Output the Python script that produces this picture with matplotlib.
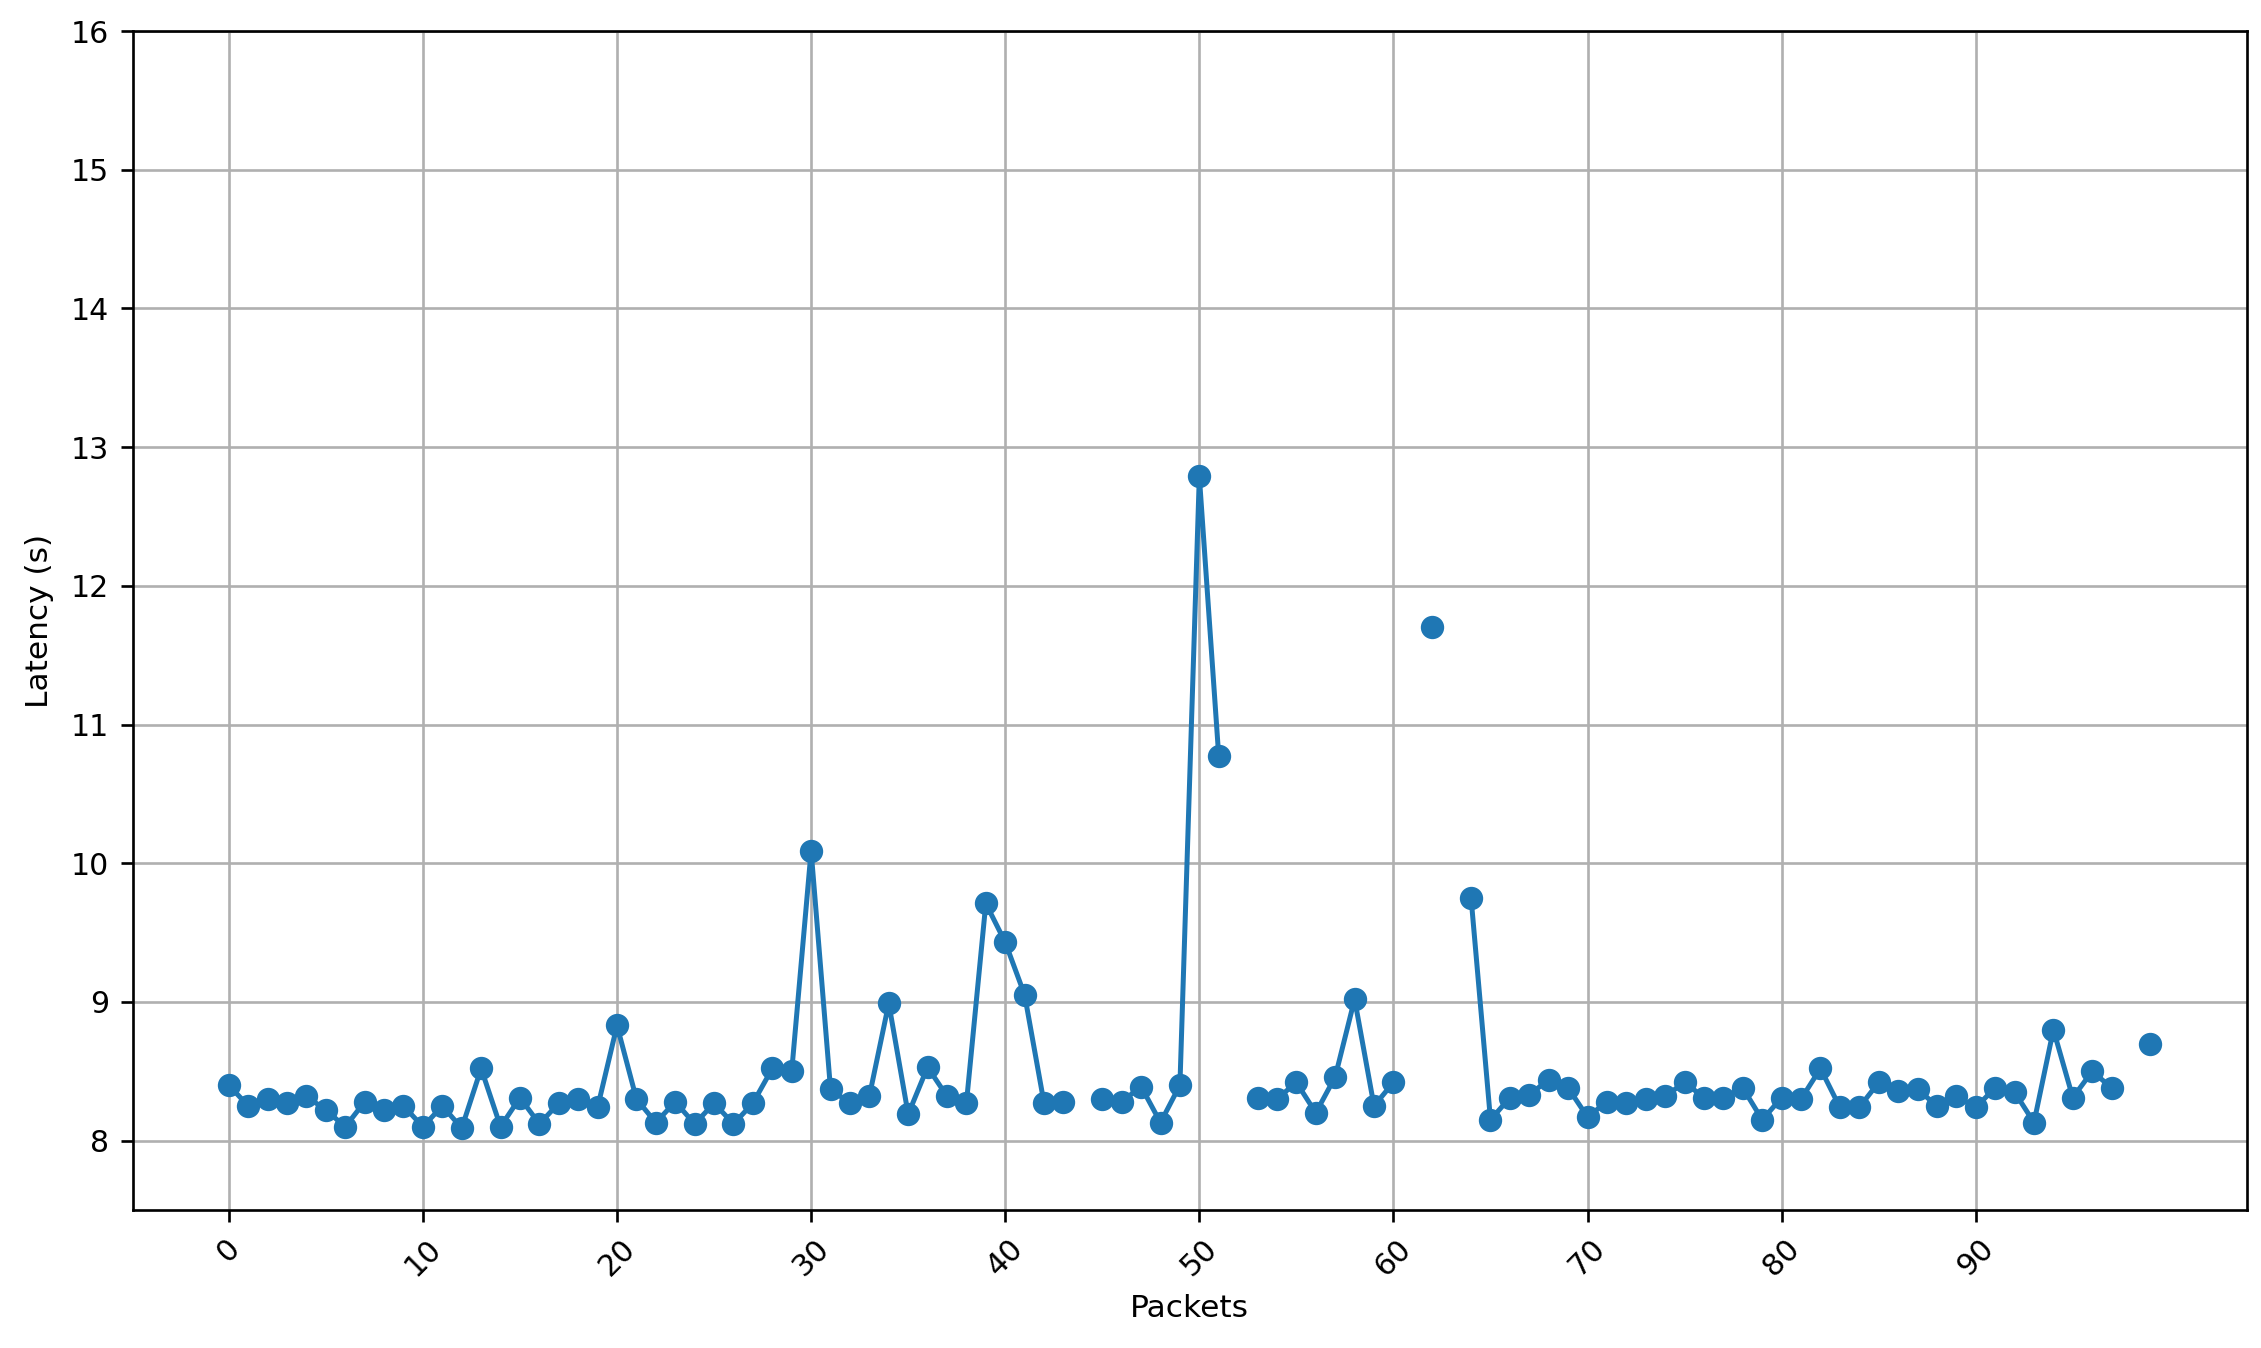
import numpy as np
import matplotlib
matplotlib.use("Agg")
import matplotlib.pyplot as plt

# latency per packet, NaN = lost packet
packets = np.arange(100)
latency = np.array([
    8.40, 8.25, 8.30, 8.27, 8.32, 8.22, 8.10, 8.28, 8.22, 8.25,   # 0-9
    8.10, 8.25, 8.09, 8.52, 8.10, 8.31, 8.12, 8.27, 8.30, 8.24,   # 10-19
    8.83, 8.30, 8.13, 8.28, 8.12, 8.27, 8.12, 8.27, 8.52, 8.50,   # 20-29
    10.09, 8.37, 8.27, 8.32, 8.99, 8.19, 8.53, 8.32, 8.27, 9.71,  # 30-39
    9.43, 9.05, 8.27, 8.28, np.nan, 8.30, 8.28, 8.39, 8.13, 8.40, # 40-49
    12.79, 10.77, np.nan, 8.31, 8.30, 8.42, 8.20, 8.46, 9.02, 8.25,  # 50-59
    8.42, np.nan, 11.70, np.nan, 9.75, 8.15, 8.31, 8.33, 8.44, 8.38,  # 60-69
    8.17, 8.28, 8.27, 8.30, 8.32, 8.42, 8.31, 8.31, 8.38, 8.15,   # 70-79
    8.31, 8.30, 8.52, 8.24, 8.24, 8.42, 8.36, 8.37, 8.25, 8.32,   # 80-89
    8.24, 8.38, 8.35, 8.13, 8.80, 8.31, 8.50, 8.38, np.nan, 8.70, # 90-99
])
xtick_values = np.arange(0, 100, 10)

fig = plt.figure(figsize=(2261 / 240, 1348 / 240), dpi=240)
ax = fig.add_axes([0.0587, 0.1024, 0.9349, 0.8746])

ax.plot(packets, latency, marker='o')
ax.set_ylim(7.5, 16)
ax.set_xticks(xtick_values)
ax.tick_params(axis='x', labelrotation=45, labelsize=9)
ax.tick_params(axis='y', labelsize=9)
ax.set_xlabel('Packets', fontsize=9.4)
ax.set_ylabel('Latency (s)', fontsize=9.4, labelpad=5)
ax.grid(True)

fig.savefig('out.png', dpi=240)
